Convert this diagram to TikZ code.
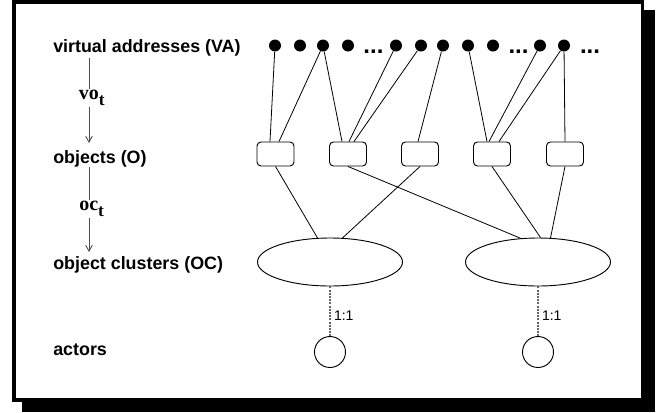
\documentclass[tikz,border=0pt]{standalone}
\usepackage{fontspec}
\setmainfont{Liberation Sans}
\newfontfamily\serf{Liberation Serif}
\usetikzlibrary{shapes.geometric,calc,arrows.meta}
\begin{document}
\begin{tikzpicture}[x=0.75pt,y=-0.75pt,
 lvl/.style={anchor=base west, inner sep=0, font=\fontsize{13.4}{16}\selectfont\bfseries},
 vadot/.style={circle, fill=black, inner sep=0, minimum size=9pt},
 more/.style={anchor=base, inner sep=0, font=\fontsize{18}{20}\selectfont\bfseries},
 obj/.style={draw, rounded corners=3pt, minimum width=27.75pt, minimum height=18pt, inner sep=0, line width=0.7pt},
 cluster/.style={draw, ellipse, minimum width=108.75pt, minimum height=36pt, inner sep=0, line width=0.7pt},
 actor/.style={draw, circle, minimum size=23.25pt, inner sep=0, line width=0.7pt},
 link/.style={line width=0.6pt},
 map/.style={draw=black!70, line width=0.65pt, -{Straight Barb[length=4.5pt,width=5pt]}},
 maplab/.style={fill=white, inner sep=1pt, font=\serf\fontsize{15}{17}\selectfont\bfseries},
 onetoone/.style={draw=black!60, line width=1pt, dash pattern=on 1.5pt off 0.9pt},
 ratio/.style={anchor=west, inner sep=0, font=\fontsize{10.5}{12}\selectfont},
]
\useasboundingbox (0,0) rectangle (672,412);
% frame with shadow
\fill[black] (22,10) rectangle (655,412);
\draw[line width=2.8pt, fill=white] (14,2) rectangle (642.5,400);

% level labels
\node[lvl] (lva) at (53,52) {virtual addresses (VA)};
\node[lvl] (lob) at (53,163) {objects (O)};
\node[lvl] (loc) at (53,269) {object clusters (OC)};
\node[lvl] (lac) at (53,355) {actors};

% mapping arrows
\coordinate (m1s) at (89,58);
\coordinate (m1e) at (89,143);
\coordinate (m2s) at (89,167);
\coordinate (m2e) at (89,252);
\draw[map] (m1s) -- node[maplab, pos=0.47, xshift=2pt] {vo\raisebox{-4.5pt}{\fontsize{13}{15}\selectfont t}} (m1e);
\draw[map] (m2s) -- node[maplab, pos=0.49, xshift=2pt] {oc\raisebox{-4.5pt}{\fontsize{13}{15}\selectfont t}} (m2e);

% virtual addresses
\node[vadot] (v1) at (275,45.5) {};
\node[vadot] (v2) at (300,45.5) {};
\node[vadot] (v3) at (323,45.5) {};
\node[vadot] (v4) at (348,45.5) {};
\node[more] (d1) at (373.5,53.5) {...};
\node[vadot] (v5) at (396,45.5) {};
\node[vadot] (v6) at (421,45.5) {};
\node[vadot] (v7) at (443,45.5) {};
\node[vadot] (v8) at (468,45.5) {};
\node[vadot] (v9) at (493,45.5) {};
\node[more] (d2) at (518.5,53.5) {...};
\node[vadot] (v10) at (540,45.5) {};
\node[vadot] (v11) at (564,45.5) {};
\node[more] (d3) at (590,53.5) {...};

% objects
\node[obj] (b1) at (275.5,154) {};
\node[obj] (b2) at (348,154) {};
\node[obj] (b3) at (420,154) {};
\node[obj] (b4) at (492,154) {};
\node[obj] (b5) at (565,154) {};

% object clusters
\node[cluster] (c1) at (330,262) {};
\node[cluster] (c2) at (538,262) {};

% actors
\node[actor] (a1) at (330,352) {};
\node[actor] (a2) at (538,352) {};

% VA -> objects
\draw[link] (v1) -- ($(b1.north)+(-5.5,0)$);
\draw[link] (v3) -- ($(b1.north)+(3.5,0)$);
\draw[link] (v3) -- ($(b2.north)+(-6,0)$);
\draw[link] (v5) -- ($(b2.north)+(1,0)$);
\draw[link] (v6) -- ($(b2.north)+(6,0)$);
\draw[link] (v7) -- ($(b3.north)+(-2,0)$);
\draw[link] (v8) -- ($(b4.north)+(-5,0)$);
\draw[link] (v10) -- ($(b4.north)+(-3,0)$);
\draw[link] (v11) -- ($(b4.north)+(7,0)$);
\draw[link] (v11) -- (b5.north);

% objects -> clusters
\draw[link] (b1.south) -- ($(c1.north)+(-12.5,0.4)$);
\draw[link] (b3.south) -- ($(c1.north)+(12.5,0.4)$);
\draw[link] (b2.south) -- ($(c2.north)+(-17.5,0.7)$);
\draw[link] (b4.south) -- ($(c2.north)+(2.5,0)$);
\draw[link] (b5.south) -- ($(c2.north)+(12.5,0.4)$);

% clusters -> actors
\draw[onetoone] (c1) -- node[ratio, pos=0.58, xshift=2.5pt] {1:1} (a1);
\draw[onetoone] (c2) -- node[ratio, pos=0.58, xshift=2.5pt] {1:1} (a2);
\end{tikzpicture}
\end{document}
